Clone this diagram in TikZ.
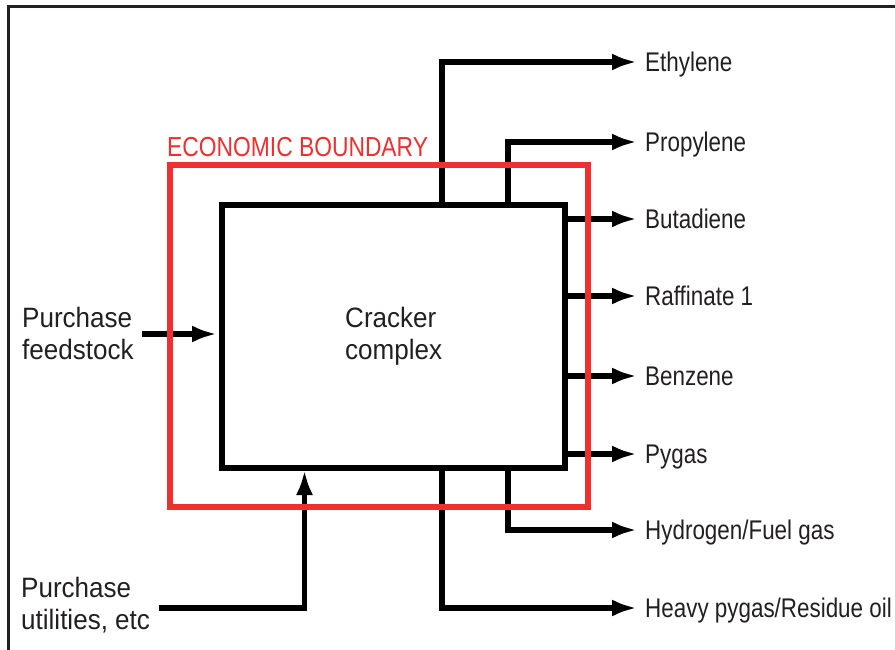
\documentclass[tikz,border=0pt]{standalone}
\usepackage{fontspec}
\setmainfont{Liberation Sans}
\newfontfamily\rlab[FakeStretch=0.83]{Liberation Sans}
\newfontfamily\llab[FakeStretch=0.93]{Liberation Sans}
\usetikzlibrary{arrows.meta}
\definecolor{bred}{RGB}{238,48,48}
\definecolor{ink}{RGB}{35,31,32}
\begin{document}
\begin{tikzpicture}[x=1pt,y=-1pt,
  flow/.style={draw=black, line width=5.5pt, -{Latex[length=25pt,width=17pt]}},
  boxline/.style={line width=5.5pt, outer sep=0pt, inner sep=0pt},
  outlab/.style={anchor=west, inner xsep=8pt, inner ysep=0pt, text height=19.3pt, text depth=0pt, font=\rlab\fontsize{27}{31}\selectfont, text=ink},
  inlab/.style={anchor=base west, inner sep=0pt, align=left, font=\llab\fontsize{28}{31.5}\selectfont, text=ink}]
\useasboundingbox (0,0) rectangle (895,650);
% frame (top and left only)
\draw[ink, line width=2.5pt] (8.5,652) |- (897,6.3);
% main box
\node[boxline, draw=black, minimum width=343pt, minimum height=263pt] (box) at (393.5,336.5) {};
\node[inlab] (cracker) at (345,359) {Cracker\\complex};
% labels
\node[outlab] (eth) at (637,62) {Ethylene};
\node[outlab] (pro) at (637,142) {Propylene};
\node[outlab] (but) at (637,219) {Butadiene};
\node[outlab] (raf) at (637,296) {Raffinate 1};
\node[outlab] (ben) at (637,376) {Benzene};
\node[outlab] (pyg) at (637,454) {Pygas};
\node[outlab] (hyd) at (637,530) {Hydrogen/Fuel gas};
\node[outlab] (hvy) at (637,608) {Heavy pygas/Residue oil};
\node[inlab] (feed) at (22,359) {Purchase\\feedstock};
\node[inlab] (util) at (21,629) {Purchase\\utilities, etc};
\node[anchor=base west, inner sep=0pt, text=bred, font=\rlab\fontsize{27.5}{31}\selectfont] (econlab) at (167,157) {ECONOMIC BOUNDARY};
% branch columns
\coordinate (colA) at (442,0);
\coordinate (colB) at (508,0);
\coordinate (colU) at (304.5,0);
\coordinate (feedstart) at (142,334);
\coordinate (utilstart) at (159,608);
% outputs
\draw[flow] (box.north -| colA) |- (eth.west);
\draw[flow] (box.north -| colB) |- (pro.west);
\draw[flow] (box.east |- but.west) -- (but.west);
\draw[flow] (box.east |- raf.west) -- (raf.west);
\draw[flow] (box.east |- ben.west) -- (ben.west);
\draw[flow] (box.east |- pyg.west) -- (pyg.west);
\draw[flow] (box.south -| colB) |- (hyd.west);
\draw[flow] (box.south -| colA) |- (hvy.west);
% inputs
\draw[flow, shorten >=5pt] (feedstart) -- (feedstart -| box.west);
\draw[flow, shorten >=2pt] (utilstart) -| (box.south -| colU);
% economic boundary (on top)
\node[boxline, draw=bred, minimum width=418pt, minimum height=342pt] (econ) at (379,336) {};
\end{tikzpicture}
\end{document}
